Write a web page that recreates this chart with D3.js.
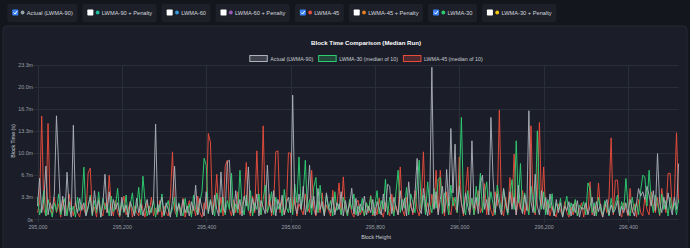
<!DOCTYPE html>
<html>
<head>
<meta charset="utf-8">
<script src="https://cdn.jsdelivr.net/npm/d3@7"></script>
<style>
html, body { margin: 0; padding: 0; background: #14161d; }
svg { display: block; font-family: "Liberation Sans", Arial, sans-serif; }
</style>
</head>
<body>
<script>

// toolbar toggles
var toggleNames = ["Actual (LWMA-90)", "LWMA-90 + Penalty", "LWMA-60", "LWMA-60 + Penalty",
                   "LWMA-45", "LWMA-45 + Penalty", "LWMA-30", "LWMA-30 + Penalty"];
var toggleColors = ["#95a5a6", "#1abc9c", "#3498db", "#9b59b6", "#e74c3c", "#e67e22", "#2ecc71", "#f1c40f"];
var toggleOn = [true, false, false, false, true, false, true, false];

// chart series (block time in seconds, every 5th block from 295,000)
var startBlock = 295000;
var blockStep = 5;
var seriesNames = ["Actual (LWMA-90)", "LWMA-30 (median of 10)", "LWMA-45 (median of 10)"];
var seriesColors = ["#aeb3ba", "#2ecc71", "#e74c3c"];

var actual = [
120,372,60,180,482,40,150,90,230,939,491,70,210,30,427,110,20,854,140,60,
190,80,150,30,120,200,40,260,90,170,20,140,409,60,250,30,180,90,150,40,
200,70,130,20,160,100,30,190,60,140,30,110,180,40,90,150,864,60,130,200,
40,150,90,20,170,482,70,140,30,180,60,120,30,160,80,309,40,190,100,30,
250,60,170,40,220,90,30,430,100,60,520,536,120,40,260,90,180,30,210,120,
475,60,190,80,230,30,170,110,50,491,140,60,260,30,180,90,220,40,150,200,
60,1127,140,50,230,90,300,40,170,491,100,210,40,280,90,160,30,240,110,60,
200,40,150,90,250,30,170,60,130,282,50,190,30,140,80,210,40,120,60,180,
30,160,100,40,230,70,318,300,50,200,110,40,260,80,190,30,340,120,60,230,
552,100,50,280,140,30,200,1379,90,250,40,180,300,60,452,120,824,240,682,80,
300,150,50,240,120,40,712,100,200,50,324,400,90,180,40,924,380,60,230,120,
40,280,150,60,250,90,200,40,310,120,50,220,80,985,160,60,409,120,40,260,
90,200,40,230,110,30,180,60,150,20,120,80,160,30,140,60,170,20,110,90,
150,40,120,200,30,160,70,140,20,110,180,40,130,60,90,170,30,120,60,150,
40,180,90,30,140,279,210,250,180,300,220,120,260,80,597,150,60,200,90,240,
120,40,200,90,506];

var lwma30 = [
200,40,120,260,30,180,90,20,150,70,230,40,110,190,30,160,60,120,20,200,
80,150,473,40,100,220,30,170,60,250,20,190,90,140,30,210,70,120,280,30,
160,60,220,20,130,240,50,110,290,40,391,160,30,120,60,180,20,140,70,230,
30,110,170,50,90,200,20,150,80,30,190,60,140,20,220,90,40,160,250,554,
491,50,180,100,30,240,130,60,200,40,170,90,418,30,140,60,445,120,40,220,
80,260,30,150,90,230,40,180,310,60,130,250,40,200,90,150,30,270,110,60,
200,40,320,150,566,90,230,536,70,180,40,290,380,60,309,120,40,220,90,170,
30,250,80,140,40,200,110,30,180,90,230,40,120,60,190,30,150,80,210,40,
130,260,50,170,90,364,40,200,120,30,250,445,60,180,100,290,40,230,150,60,
300,536,90,220,40,340,130,60,280,100,364,379,50,240,160,40,310,120,200,60,
280,924,130,40,260,90,190,40,300,120,418,60,220,340,80,250,140,40,310,190,
60,280,120,40,230,360,90,712,150,506,60,240,120,40,300,160,60,803,200,90,
250,40,180,100,233,30,150,80,190,20,120,209,40,150,70,180,30,130,90,160,
40,330,280,60,150,30,200,90,40,170,110,30,190,60,140,220,40,160,90,370,
120,30,200,80,150,40,260,400,385,120,445,180,60,220,140,40,230,90,170,30,
200,80,150,40,180];

var lwma45 = [
60,150,936,90,30,870,120,40,200,60,140,20,180,80,40,230,100,30,160,60,
20,140,90,40,418,464,60,110,20,190,80,30,150,60,400,100,30,170,60,20,
130,210,40,90,160,20,120,60,30,180,90,20,150,60,200,30,100,40,170,20,
120,60,30,200,612,80,30,140,60,190,20,100,170,40,120,30,210,60,20,150,
90,779,700,40,150,409,60,200,30,482,536,90,30,180,60,250,40,130,200,515,
90,30,210,60,621,120,40,848,110,60,230,30,150,612,621,60,180,40,110,603,
600,60,200,30,140,90,40,230,110,60,445,90,30,170,60,240,40,130,80,30,
264,60,120,330,40,385,90,30,170,60,20,140,173,40,90,30,150,60,218,30,
110,40,190,70,20,150,90,30,230,60,120,40,475,90,30,200,60,150,40,260,
90,30,180,612,60,150,40,230,100,445,60,445,130,30,250,90,40,200,110,60,
566,150,30,240,475,60,190,40,130,260,60,110,324,40,200,80,30,250,120,991,
90,30,200,60,379,120,591,40,180,90,260,40,150,60,848,120,40,230,879,100,
475,60,150,30,120,60,20,140,80,30,160,60,20,110,40,170,30,90,150,20,
130,60,340,40,120,30,330,80,20,150,60,200,739,40,355,355,60,20,150,90,
30,280,60,140,20,180,60,30,200,90,40,250,120,60,200,30,280,150,60,415,
418,90,200,785,150];

var yTicks = [0, 200, 400, 600, 800, 1000, 1200, 1400];
var xTicks = [295000, 295200, 295400, 295600, 295800, 296000, 296200, 296400];

var W = 690, H = 248;
var svg = d3.select("body").append("svg")
            .attr("width", W)
            .attr("height", H);

svg.append("rect").attr("width", W).attr("height", H).attr("fill", "#14161d");

// toolbar of pills
var bar = svg.append("g");
var px = 7.3;
toggleNames.forEach(function(name, i){
  var g = bar.append("g");
  var pill = g.append("rect")
              .attr("y", 4).attr("height", 18).attr("rx", 2.5)
              .attr("fill", "#1d2029");
  g.append("rect")
   .attr("x", px + 5).attr("y", 9.5).attr("width", 6).attr("height", 6).attr("rx", 0.8)
   .attr("fill", toggleOn[i] ? "#3b82f6" : "#ffffff");
  if (toggleOn[i]) {
    g.append("path")
     .attr("d", "M" + (px + 6.3) + ",12.6 L" + (px + 7.7) + ",14 L" + (px + 9.9) + ",11")
     .attr("fill", "none").attr("stroke", "#fff").attr("stroke-width", 1);
  }
  g.append("circle")
   .attr("cx", px + 15.3).attr("cy", 12.5).attr("r", 1.9)
   .attr("fill", toggleColors[i]);
  var t = g.append("text")
           .attr("x", px + 19.5).attr("y", 14.6)
           .attr("font-size", 5.7).attr("fill", "#d4d7dd")
           .text(name);
  var w = 19.5 + t.node().getComputedTextLength() + 4.5;
  pill.attr("x", px).attr("width", w);
  px = px + w + 5;
});

// chart panel
svg.append("rect")
   .attr("x", 3).attr("y", 26).attr("width", W - 6).attr("height", H - 22).attr("rx", 4)
   .attr("fill", "#1b1e29").attr("stroke", "#252935").attr("stroke-width", 1);

var x = d3.scaleLinear().domain([295000, 296400]).range([37.5, 628]);
var y = d3.scaleLinear().domain([0, 1400]).range([219.3, 65]);
var lastBlock = startBlock + (actual.length - 1) * blockStep;
var plotRight = x(lastBlock);

// grid
var grid = svg.append("g").attr("stroke", "#2a2e39").attr("stroke-width", 1);
grid.selectAll("line.h").data(yTicks).enter().append("line")
    .attr("x1", 33.5).attr("x2", plotRight)
    .attr("y1", function(d){ return Math.round(y(d)) + 0.5; })
    .attr("y2", function(d){ return Math.round(y(d)) + 0.5; });
grid.selectAll("line.v").data(xTicks).enter().append("line")
    .attr("x1", function(d){ return Math.round(x(d)) + 0.5; })
    .attr("x2", function(d){ return Math.round(x(d)) + 0.5; })
    .attr("y1", y(1400)).attr("y2", y(0) + 3.5);

// axes (text only, chart.js style)
var yAxis = d3.axisLeft(y).tickValues(yTicks).tickSize(0).tickPadding(4.5)
              .tickFormat(function(d){ return d === 0 ? "0s" : (d / 60).toFixed(1) + "m"; });
var gy = svg.append("g").attr("transform", "translate(37.5,0)").call(yAxis);
var xAxis = d3.axisBottom(x).tickValues(xTicks).tickSize(0).tickPadding(5.5)
              .tickFormat(d3.format(","));
var gx = svg.append("g").attr("transform", "translate(0," + y(0) + ")").call(xAxis);
[gx, gy].forEach(function(g){
  g.select(".domain").remove();
  g.selectAll("text").attr("fill", "#9a9fa8").attr("font-size", 5.3)
   .attr("font-family", "Liberation Sans, Arial, sans-serif");
});

// lines: red, green, then gray on top
var series = [actual, lwma30, lwma45];
var line = d3.line()
             .x(function(d, i){ return x(startBlock + i * blockStep); })
             .y(function(d){ return y(d); });
[2, 1, 0].forEach(function(k){
  svg.append("path")
     .datum(series[k])
     .attr("d", line)
     .attr("fill", "none")
     .attr("stroke", seriesColors[k])
     .attr("stroke-width", 1)
     .attr("stroke-opacity", k === 0 ? 0.9 : 0.95)
     .attr("stroke-linejoin", "round");
});

// title
svg.append("text")
   .attr("x", 366).attr("y", 44.8).attr("text-anchor", "middle")
   .attr("font-size", 6.1).attr("font-weight", "bold").attr("fill", "#ffffff")
   .text("Block Time Comparison (Median Run)");

// legend
var leg = svg.append("g");
var lx = 0;
var items = [];
seriesNames.forEach(function(name, i){
  var g = leg.append("g");
  g.append("rect")
   .attr("x", lx + 0.5).attr("y", 55.5).attr("width", 17.5).attr("height", 6)
   .attr("fill", seriesColors[i]).attr("fill-opacity", 0.25)
   .attr("stroke", seriesColors[i]).attr("stroke-width", 1);
  var t = g.append("text")
           .attr("x", lx + 21).attr("y", 60.6)
           .attr("font-size", 5.3).attr("fill", "#c8ccd3")
           .text(name);
  lx = lx + 21 + t.node().getComputedTextLength() + 5;
});
leg.attr("transform", "translate(" + (366 - (lx - 5) / 2) + ",0)");

// axis titles
svg.append("text")
   .attr("transform", "translate(14.5,141) rotate(-90)")
   .attr("text-anchor", "middle")
   .attr("font-size", 5.3).attr("fill", "#c8ccd3")
   .text("Block Time (s)");
svg.append("text")
   .attr("x", 376).attr("y", 238.5).attr("text-anchor", "middle")
   .attr("font-size", 5.3).attr("fill", "#c8ccd3")
   .text("Block Height");

</script>
</body>
</html>
